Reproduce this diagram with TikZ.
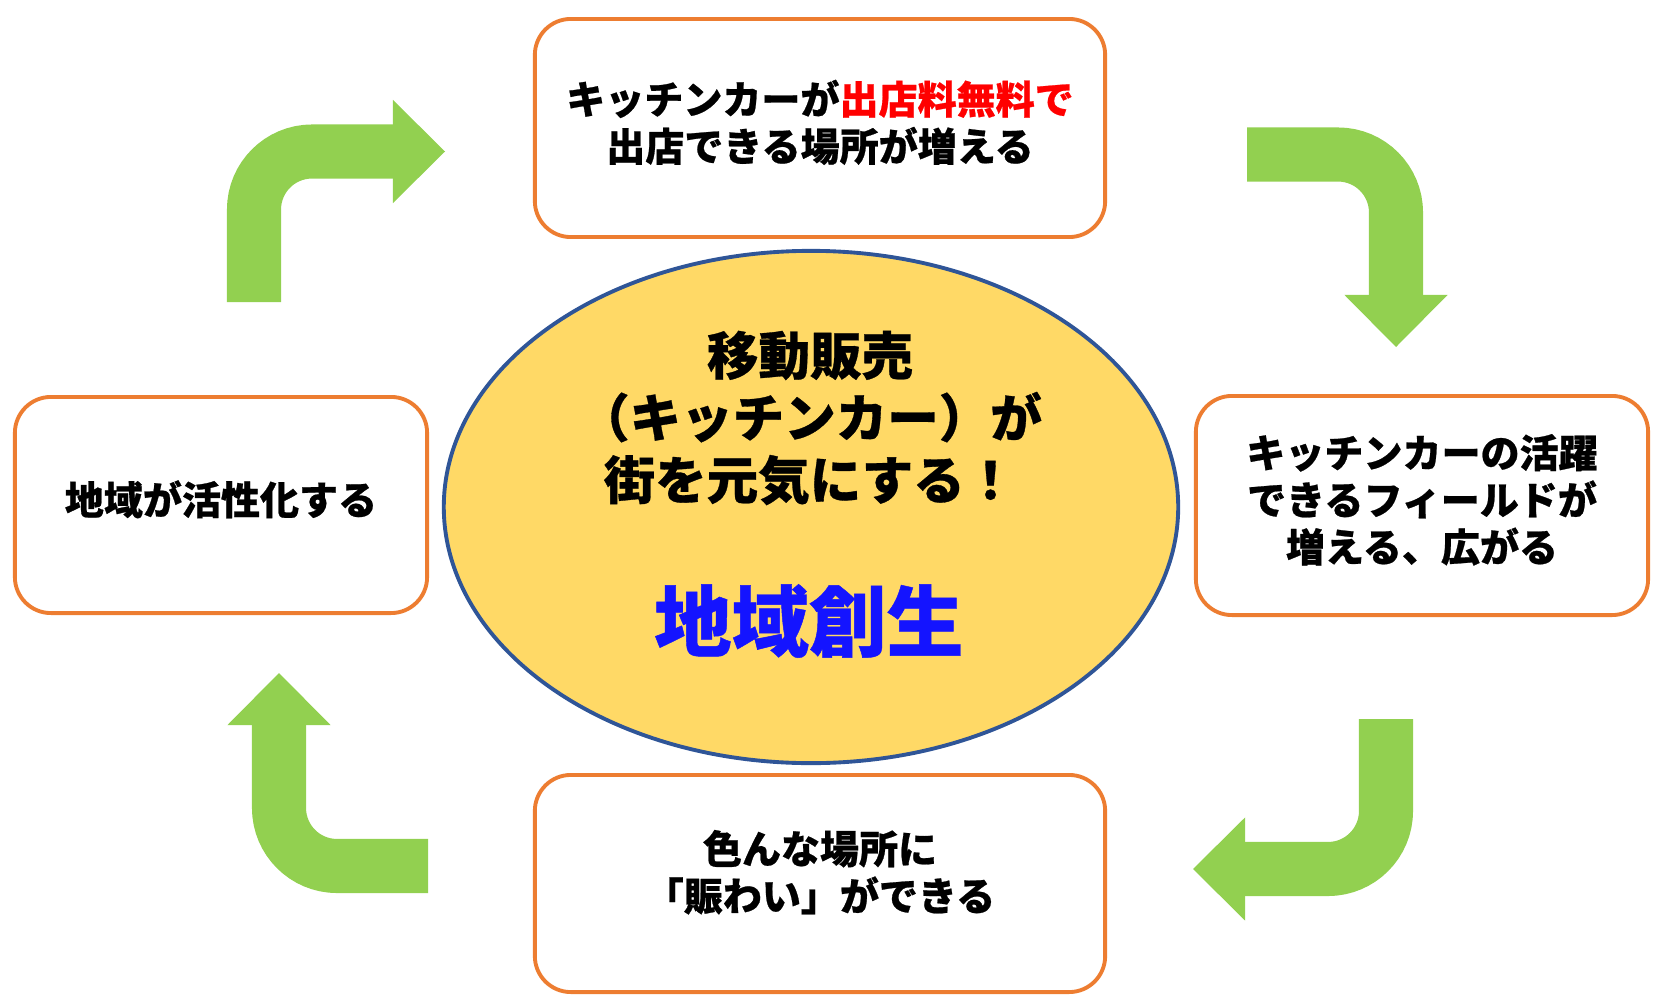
\documentclass[tikz,border=0pt]{standalone}
\usepackage{fontspec}
\setmainfont{Noto Sans CJK JP}[BoldFeatures={FakeBold=0.6}]
\usetikzlibrary{arrows.meta,shapes.geometric}
\definecolor{rahmen}{HTML}{ED7D31}
\definecolor{gruen}{HTML}{92D050}
\definecolor{gelb}{HTML}{FFD966}
\definecolor{ellrand}{HTML}{2F5597}
\definecolor{rot}{HTML}{FF0000}
\definecolor{blau}{HTML}{1414FF}
\begin{document}
\begin{tikzpicture}[x=0.01cm,y=-0.01cm]
			\tikzset{kasten/.style={rectangle, rounded corners=0.36cm, draw=rahmen, line width=1.1pt, fill=white, align=center, inner sep=0pt, text depth=4.3pt, font=\bfseries\fontsize{11.1}{13.4}\selectfont}}
			\tikzset{pfeil/.style={draw=gruen, line width=0.54cm, rounded corners=0.58cm, -{Triangle[length=0.52cm,width=1.03cm,line width=0pt]}}}
			\useasboundingbox (0,0) rectangle (1660,1006);

			% Boxes
			\node[kasten, minimum width=5.7cm, minimum height=2.18cm] at (820,128) (oben) {キッチンカーが\textcolor{rot}{出店料無料で}\\出店できる場所が増える};
			\node[kasten, minimum width=4.52cm, minimum height=2.19cm] at (1422,505.5) (rechts) {キッチンカーの活躍\\できるフィールドが\\増える、広がる};
			\node[kasten, minimum width=5.7cm, minimum height=2.17cm, text depth=7.5pt] at (820,883.5) (unten) {色んな場所に\\「賑わい」ができる};
			\node[kasten, minimum width=4.12cm, minimum height=2.16cm] at (221,505) (links) {地域が活性化する};

			% Centre
			\node[ellipse, draw=ellrand, line width=1.1pt, fill=gelb, minimum width=7.34cm, minimum height=5.12cm, inner sep=0pt] at (811,507) (mitte) {};
			\node[align=center, font=\bfseries\fontsize{14.65}{17.7}\selectfont] at (810,418) (motto) {移動販売\\（キッチンカー）が\\街を元気にする！};
			\node[font=\bfseries\fontsize{22}{26}\selectfont, text=blau] at (809,621) (ziel) {地域創生};

			% Green arrows
			\coordinate (p1s) at (254,302);
			\coordinate (p1e) at (445,151.5);
			\coordinate (p2s) at (1247,154.5);
			\coordinate (p2e) at (1396,347);
			\coordinate (p3s) at (1386,719);
			\coordinate (p3e) at (1193,869);
			\coordinate (p4s) at (428,866);
			\coordinate (p4e) at (279,673);
			\draw [pfeil] (p1s) |- (p1e);
			\draw [pfeil] (p2s) -| (p2e);
			\draw [pfeil] (p3s) |- (p3e);
			\draw [pfeil] (p4s) -| (p4e);
		\end{tikzpicture}
\end{document}
